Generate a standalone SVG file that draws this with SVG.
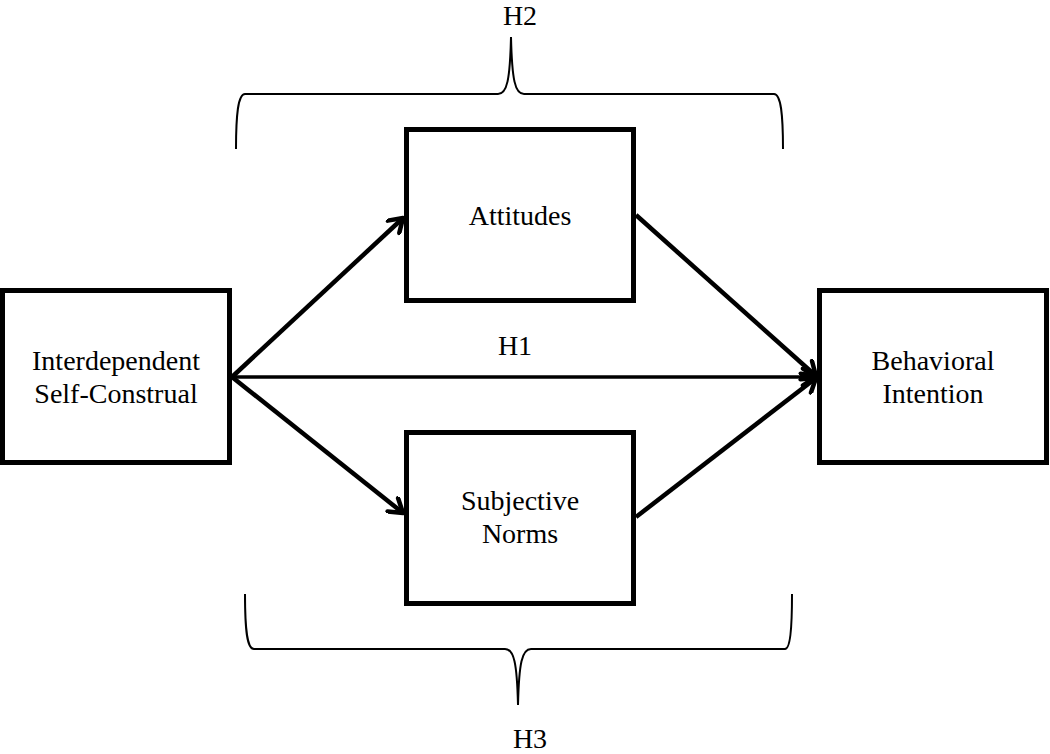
<svg xmlns="http://www.w3.org/2000/svg" width="1050" height="754" viewBox="0 0 1050 754">
  <style>
    .box { fill: #ffffff; stroke: #000000; stroke-width: 5; }
    .lbl { font-family: "Liberation Serif", "Times New Roman", serif; font-size: 28px; fill: #000000; text-anchor: middle; }
    .edge { fill: none; stroke: #000000; stroke-width: 4.5; marker-end: url(#arr); }
    .edge.thin { stroke-width: 3.5; }
    .brace { fill: none; stroke: #000000; stroke-width: 2; }
  </style>
  <defs>
    <marker id="arr" viewBox="0 0 20 20" refX="17" refY="10" markerWidth="20" markerHeight="20" markerUnits="userSpaceOnUse" orient="auto">
      <path d="M4,1.5 L17,10 L4,18.5" fill="none" stroke="#000000" stroke-width="4.5" stroke-linecap="round" stroke-linejoin="round"/>
    </marker>
  </defs>
  <rect width="1050" height="754" fill="#ffffff"/>

  <g id="connectors">
    <line class="edge" x1="232" y1="377" x2="403" y2="218"/>
    <line class="edge" x1="232" y1="377" x2="403" y2="513"/>
    <line class="edge thin" x1="232" y1="377" x2="816" y2="377"/>
    <line class="edge" x1="636" y1="215" x2="816" y2="376"/>
    <line class="edge" x1="636" y1="517" x2="816" y2="378"/>
    <text class="lbl" x="515" y="355">H1</text>
  </g>

  <g id="brace-h2">
    <path class="brace" d="M236,149 C236,115 238,94 245,94 L498,94 C507,94 510,80 511,37 C512,80 515,94 524,94 L774,94 C781,94 783,115 783,149"/>
    <text class="lbl" x="520" y="25">H2</text>
  </g>

  <g id="brace-h3">
    <path class="brace" d="M245,594 C245,630 247,649 254,649 L505,649 C514,649 517,663 518,705 C519,663 522,649 531,649 L785,649 C790,649 792,630 792,594"/>
    <text class="lbl" x="530" y="748">H3</text>
  </g>

  <g id="node-interdependent">
    <rect class="box" x="2.5" y="290.5" width="227" height="172"/>
    <text class="lbl" x="116" y="370">Interdependent</text>
    <text class="lbl" x="116" y="403">Self-Construal</text>
  </g>

  <g id="node-attitudes">
    <rect class="box" x="406.5" y="129.5" width="227" height="171"/>
    <text class="lbl" x="520" y="225">Attitudes</text>
  </g>

  <g id="node-subjective-norms">
    <rect class="box" x="406.5" y="432.5" width="227" height="171"/>
    <text class="lbl" x="520" y="510">Subjective</text>
    <text class="lbl" x="520" y="543">Norms</text>
  </g>

  <g id="node-behavioral-intention">
    <rect class="box" x="819.5" y="290.5" width="227" height="172"/>
    <text class="lbl" x="933" y="370">Behavioral</text>
    <text class="lbl" x="933" y="403">Intention</text>
  </g>
</svg>
